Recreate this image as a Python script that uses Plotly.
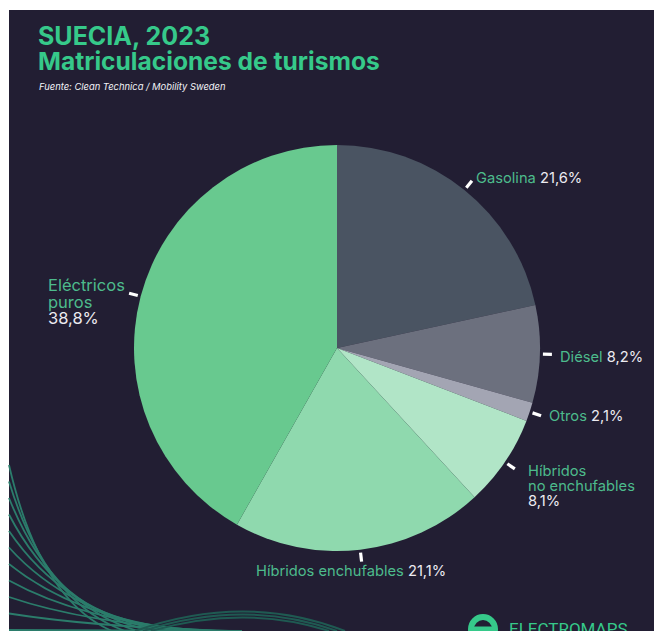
import math
import plotly.graph_objects as go

# ---------------- data ----------------
categories = ["Gasolina", "Diésel", "Otros", "Híbridos no enchufables",
              "Híbridos enchufables", "Eléctricos puros"]
label_lines = [["Gasolina"], ["Diésel"], ["Otros"], ["Híbridos", "no enchufables"],
               ["Híbridos enchufables"], ["Eléctricos", "puros"]]
label_pct = [21.6, 8.2, 2.1, 8.1, 21.1, 38.8]          # printed percentages
drawn_share = [21.6, 7.75, 1.5, 7.3, 20.05, 41.8]      # slice sizes as drawn in the picture
slice_colors = ["#4a5462", "#6c707e", "#a3a5b3", "#b1e5c7", "#8fd9ae", "#68c98f"]

# ---------------- style ----------------
W, H = 654, 631
BG = "#221e33"
GREEN_TITLE = "#36c98a"
GREEN_LABEL = "#4dbb8c"
WHITE_TXT = "#ecebf1"
FONT = "Inter"

CX, CY, R = 337, 348, 203      # pie centre / radius in pixels


def px(x):
    return x / W


def py(y):
    return 1 - y / H


fig = go.Figure()
fig.add_trace(go.Pie(
    labels=categories,
    values=drawn_share,
    sort=False,
    direction="clockwise",
    rotation=0,
    marker=dict(colors=slice_colors, line=dict(width=0)),
    textinfo="none",
    hoverinfo="label",
    showlegend=False,
    domain=dict(x=[px(CX - R), px(CX + R)], y=[py(CY + R), py(CY - R)]),
))

shapes = []
# dark panel
shapes.append(dict(type="rect", xref="paper", yref="paper", x0=px(9), x1=1.0, y0=0, y1=py(10),
                   fillcolor=BG, line=dict(width=0), layer="below"))

# decorative string-art lines (bottom left)
for i in range(11):
    y0 = 465 + 16.5 * i
    x1 = 112 + 13 * i
    cxp, cyp = 40 + 6 * i, 600 + 3 * i
    path = f"M {px(9)},{py(y0)} Q {px(cxp)},{py(cyp)} {px(x1)},{py(H)}"
    shapes.append(dict(type="path", xref="paper", yref="paper", path=path,
                       line=dict(color="#2b7c6b", width=1.8), layer="below"))
# faint arcs at bottom
for k in range(3):
    path = (f"M {px(135 + 8 * k)},{py(H)} Q {px(245)},{py(592 + 6 * k)} "
            f"{px(345 - 8 * k)},{py(H)}")
    shapes.append(dict(type="path", xref="paper", yref="paper", path=path,
                       line=dict(color="#1f5a52", width=2), layer="below"))

# label placement relative to slice mid-angle point: dx, dy, xanchor, font size, line step
label_cfg = [
    (-3, 4, "left", 14.7, 15),
    (-2, 2, "left", 14.7, 15),
    (-2, -2, "left", 14.7, 15),
    (5, -2, "left", 14.7, 15),
    (-12, 1, "center", 14.7, 15),
    (-75, -6, "left", 16.5, 16.5),
]
annotations = []
total = sum(drawn_share)
cum = 0.0
for lines, pct, share, cfg in zip(label_lines, label_pct, drawn_share, label_cfg):
    mid = (cum + share / 2) / total * 2 * math.pi
    cum += share
    s, c = math.sin(mid), math.cos(mid)
    xa, ya = CX + (R + 3) * s, CY - (R + 3) * c
    xb, yb = CX + (R + 12) * s, CY - (R + 12) * c
    shapes.append(dict(type="line", xref="paper", yref="paper",
                       x0=px(xa), y0=py(ya), x1=px(xb), y1=py(yb),
                       line=dict(color="white", width=3.2)))
    lx, ly = CX + (R + 20) * s + cfg[0], CY - (R + 20) * c + cfg[1]
    pct_txt = f"{pct:.1f}".replace(".", ",") + "%"
    pct_span = f"<span style='color:{WHITE_TXT}'>{pct_txt}</span>"
    if len(lines) == 1:
        rows = [f"<span style='color:{GREEN_LABEL}'>{lines[0]}</span> {pct_span}"]
    else:
        rows = [f"<span style='color:{GREEN_LABEL}'>{t}</span>" for t in lines] + [pct_span]
    for k, row in enumerate(rows):
        annotations.append(dict(x=px(lx), y=py(ly + k * cfg[4]), xref="paper", yref="paper",
                                text=row, showarrow=False, xanchor=cfg[2], yanchor="middle",
                                font=dict(family=FONT, size=cfg[3], color=WHITE_TXT)))

# titles
annotations.append(dict(x=px(36), y=py(36), xref="paper", yref="paper",
                        text="<b>SUECIA, 2023</b>", showarrow=False,
                        xanchor="left", yanchor="middle",
                        font=dict(family=FONT, size=25, color=GREEN_TITLE)))
annotations.append(dict(x=px(36), y=py(61), xref="paper", yref="paper",
                        text="<b>Matriculaciones de turismos</b>", showarrow=False,
                        xanchor="left", yanchor="middle",
                        font=dict(family=FONT, size=24.6, color=GREEN_TITLE)))
annotations.append(dict(x=px(37), y=py(87), xref="paper", yref="paper",
                        text="<i>Fuente: Clean Technica / Mobility Sweden</i>", showarrow=False,
                        xanchor="left", yanchor="middle",
                        font=dict(family=FONT, size=9.4, color="#f2f2f6")))

# logo
shapes.append(dict(type="circle", xref="paper", yref="paper",
                   x0=px(471), x1=px(495), y0=py(641), y1=py(617),
                   line=dict(color=GREEN_TITLE, width=6), fillcolor="rgba(0,0,0,0)"))
shapes.append(dict(type="line", xref="paper", yref="paper",
                   x0=px(474), x1=px(494), y0=py(629), y1=py(629),
                   line=dict(color=GREEN_TITLE, width=5)))
annotations.append(dict(x=px(507), y=py(617), xref="paper", yref="paper",
                        text="ELECTROMAPS", showarrow=False,
                        xanchor="left", yanchor="top",
                        font=dict(family="Roboto", size=17, color=GREEN_TITLE)))

fig.update_layout(
    width=W, height=H,
    margin=dict(l=0, r=0, t=0, b=0),
    paper_bgcolor="white",
    plot_bgcolor="rgba(0,0,0,0)",
    shapes=shapes,
    annotations=annotations,
)
fig.write_html("out.html", config={"displayModeBar": False},
               post_script="document.body.style.margin='0';document.body.style.overflow='hidden';")
